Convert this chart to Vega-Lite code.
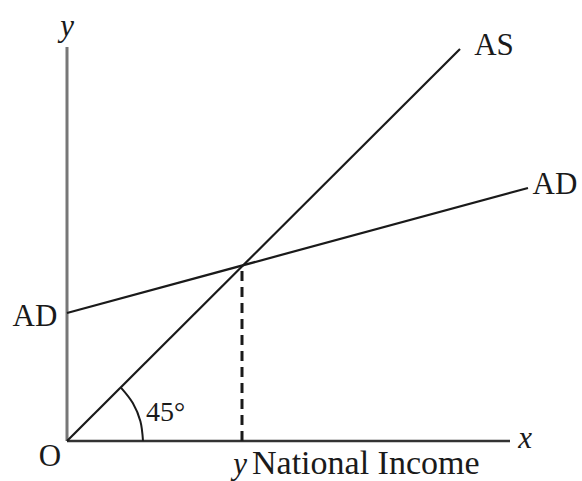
{
  "$schema": "https://vega.github.io/schema/vega-lite/v6.json",
  "width": 582,
  "height": 481,
  "autosize": {"type": "fit", "contains": "padding"},
  "padding": 0,
  "background": "white",
  "config": {"view": {"stroke": null}},
  "datasets": {
    "yaxis": [{"x": 0, "y": 0, "x2": 0, "y2": 394}],
    "xaxis": [{"x": 0, "y": 0, "x2": 443, "y2": 0}],
    "curves": [
      {"name": "AS", "x": 0, "y": 0, "x2": 393, "y2": 392},
      {"name": "AD", "x": 0, "y": 128, "x2": 461, "y2": 253}
    ],
    "dash": [{"x": 175, "y": 0, "x2": 175, "y2": 176}],
    "arc": [
      {"o": 0, "x": 76, "y": 0},
      {"o": 1, "x": 73.4, "y": 19.7},
      {"o": 2, "x": 65.8, "y": 38},
      {"o": 3, "x": 53.7, "y": 53.7}
    ],
    "labels": [
      {"t": "AD", "x": -32, "y": 124},
      {"t": "AS", "x": 427, "y": 395},
      {"t": "AD", "x": 488, "y": 256},
      {"t": "O", "x": -17, "y": -16}
    ],
    "italic": [
      {"t": "y", "x": 0, "y": 414},
      {"t": "x", "x": 458, "y": 2},
      {"t": "y", "x": 173, "y": -24}
    ],
    "deg": [{"t": "45°", "x": 79, "y": 28}],
    "income": [{"t": "National Income", "x": 185, "y": -23}]
  },
  "layer": [
    {
      "data": {"name": "yaxis"},
      "mark": {"type": "rule", "color": "#777", "strokeWidth": 3},
      "encoding": {
        "x": {"field": "x", "type": "quantitative", "scale": {"domain": [-67, 515], "nice": false, "zero": false}, "axis": null},
        "y": {"field": "y", "type": "quantitative", "scale": {"domain": [-40, 441], "nice": false, "zero": false}, "axis": null},
        "x2": {"field": "x2"},
        "y2": {"field": "y2"}
      }
    },
    {
      "data": {"name": "xaxis"},
      "mark": {"type": "rule", "color": "#333", "strokeWidth": 2.5},
      "encoding": {
        "x": {"field": "x", "type": "quantitative"},
        "y": {"field": "y", "type": "quantitative"},
        "x2": {"field": "x2"},
        "y2": {"field": "y2"}
      }
    },
    {
      "data": {"name": "curves"},
      "mark": {"type": "rule", "color": "#1a1a1a", "strokeWidth": 2.2},
      "encoding": {
        "x": {"field": "x", "type": "quantitative"},
        "y": {"field": "y", "type": "quantitative"},
        "x2": {"field": "x2"},
        "y2": {"field": "y2"}
      }
    },
    {
      "data": {"name": "dash"},
      "mark": {"type": "rule", "color": "#1a1a1a", "strokeWidth": 3, "strokeDash": [10, 6]},
      "encoding": {
        "x": {"field": "x", "type": "quantitative"},
        "y": {"field": "y", "type": "quantitative"},
        "x2": {"field": "x2"},
        "y2": {"field": "y2"}
      }
    },
    {
      "data": {"name": "arc"},
      "mark": {"type": "line", "color": "#1a1a1a", "strokeWidth": 2, "interpolate": "cardinal"},
      "encoding": {
        "x": {"field": "x", "type": "quantitative"},
        "y": {"field": "y", "type": "quantitative"},
        "order": {"field": "o"}
      }
    },
    {
      "data": {"name": "labels"},
      "mark": {"type": "text", "font": "Liberation Serif", "fontSize": 31, "color": "#1a1a1a", "align": "center", "baseline": "middle"},
      "encoding": {
        "x": {"field": "x", "type": "quantitative"},
        "y": {"field": "y", "type": "quantitative"},
        "text": {"field": "t"}
      }
    },
    {
      "data": {"name": "italic"},
      "mark": {"type": "text", "font": "Liberation Serif", "fontStyle": "italic", "fontSize": 31, "color": "#1a1a1a", "align": "center", "baseline": "middle"},
      "encoding": {
        "x": {"field": "x", "type": "quantitative"},
        "y": {"field": "y", "type": "quantitative"},
        "text": {"field": "t"}
      }
    },
    {
      "data": {"name": "deg"},
      "mark": {"type": "text", "font": "Liberation Serif", "fontSize": 28, "color": "#1a1a1a", "align": "left", "baseline": "middle"},
      "encoding": {
        "x": {"field": "x", "type": "quantitative"},
        "y": {"field": "y", "type": "quantitative"},
        "text": {"field": "t"}
      }
    },
    {
      "data": {"name": "income"},
      "mark": {"type": "text", "font": "Liberation Serif", "fontSize": 34, "color": "#1a1a1a", "align": "left", "baseline": "middle"},
      "encoding": {
        "x": {"field": "x", "type": "quantitative"},
        "y": {"field": "y", "type": "quantitative"},
        "text": {"field": "t"}
      }
    }
  ]
}
